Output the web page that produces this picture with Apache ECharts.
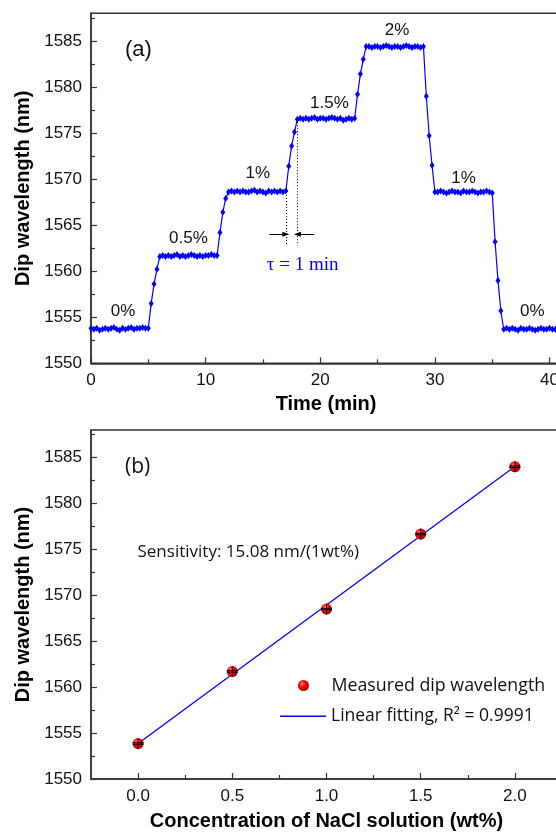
<!DOCTYPE html>
<html><head><meta charset="utf-8">
<script src="https://cdn.jsdelivr.net/npm/echarts@6/dist/echarts.min.js"></script>
<style>html,body{margin:0;padding:0;background:#fff;overflow:hidden}#c{width:562px;height:832px}</style>
</head><body><div id="c"></div>
<script>
// ---------- (a) time response ----------
const times = [
  0,0.25,0.5,0.75,1,1.25,1.5,1.75,2,2.25,2.5,2.75,3,3.25,3.5,3.75,4,4.25,4.5,4.75,5,
  5.25,5.5,5.75,6,
  6.25,6.5,6.75,7,7.25,7.5,7.75,8,8.25,8.5,8.75,9,9.25,9.5,9.75,10,10.25,10.5,10.75,11,
  11.25,11.5,11.75,12,
  12.25,12.5,12.75,13,13.25,13.5,13.75,14,14.25,14.5,14.75,15,15.25,15.5,15.75,16,16.25,16.5,16.75,17,
  17.25,17.5,17.75,18,
  18.25,18.5,18.75,19,19.25,19.5,19.75,20,20.25,20.5,20.75,21,21.25,21.5,21.75,22,22.25,22.5,22.75,23,
  23.25,23.5,23.75,24,
  24.25,24.5,24.75,25,25.25,25.5,25.75,26,26.25,26.5,26.75,27,27.25,27.5,27.75,28,28.25,28.5,28.75,29,
  29.25,29.5,29.75,30,
  30.25,30.5,30.75,31,31.25,31.5,31.75,32,32.25,32.5,32.75,33,33.25,33.5,33.75,34,34.25,34.5,34.75,35,
  35.25,35.5,35.75,36,
  36.25,36.5,36.75,37,37.25,37.5,37.75,38,38.25,38.5,38.75,39,39.25,39.5,39.75,40,40.25,40.5,40.75,41
];
const wavelengths = [
  1553.8,1553.7,1553.8,1553.6,1553.7,1553.8,1553.7,1553.8,1553.9,1553.7,1553.6,1553.8,1553.7,1553.8,1553.9,1553.7,1553.8,1553.8,1553.9,1553.8,1553.8,
  1556.5,1558.6,1560.2,1561.6,
  1561.7,1561.6,1561.7,1561.6,1561.7,1561.8,1561.6,1561.7,1561.6,1561.7,1561.8,1561.7,1561.6,1561.7,1561.6,1561.7,1561.7,1561.8,1561.7,1561.7,
  1564.2,1566.4,1567.9,1568.6,
  1568.7,1568.6,1568.7,1568.6,1568.7,1568.6,1568.6,1568.7,1568.8,1568.6,1568.7,1568.6,1568.5,1568.7,1568.6,1568.7,1568.6,1568.7,1568.6,1568.7,
  1571.4,1573.6,1575.1,1576.5,
  1576.6,1576.5,1576.6,1576.5,1576.6,1576.7,1576.5,1576.6,1576.6,1576.5,1576.6,1576.7,1576.6,1576.5,1576.6,1576.4,1576.5,1576.6,1576.5,1576.6,
  1579.2,1581.4,1583.0,1584.4,
  1584.4,1584.3,1584.4,1584.4,1584.3,1584.4,1584.5,1584.4,1584.3,1584.4,1584.4,1584.3,1584.4,1584.5,1584.4,1584.3,1584.4,1584.4,1584.3,1584.4,
  1579.0,1574.7,1571.5,1568.6,
  1568.6,1568.7,1568.6,1568.5,1568.6,1568.7,1568.6,1568.6,1568.5,1568.7,1568.6,1568.6,1568.7,1568.6,1568.5,1568.6,1568.6,1568.7,1568.6,1568.5,
  1563.2,1559.0,1555.7,1553.7,
  1553.8,1553.7,1553.8,1553.7,1553.6,1553.8,1553.7,1553.7,1553.8,1553.7,1553.6,1553.7,1553.8,1553.7,1553.7,1553.8,1553.7,1553.7,1553.8,1553.7
];
const pctLabelTexts  = ['0%', '0.5%', '1%', '1.5%', '2%', '1%', '0%'];
const pctLabelTimes  = [2.8, 8.5, 14.55, 20.8, 26.7, 32.5, 38.5];
const pctLabelValues = [1555.6, 1563.6, 1570.6, 1578.2, 1586.1, 1570.1, 1555.6];
const tauText = 'τ = 1 min';
const tauTextPos = [18.46, 1560.7];
const tauLineTimes = [17, 18];
const tauLineTops = [1568.6, 1576.5];
const tauLineBottom = 1562.8;
const tauArrowLevel = 1564.0;
const tauArrowTails = [15.56, 19.48];
const timeTicks = [0, 10, 20, 30, 40];
const timeMinorTicks = [5, 15, 25, 35];
const dipTicks = [1550, 1555, 1560, 1565, 1570, 1575, 1580, 1585];
const dipMinorTicks = [1552.5, 1557.5, 1562.5, 1567.5, 1572.5, 1577.5, 1582.5, 1587.5];

// ---------- (b) calibration ----------
const concentrations = [0, 0.5, 1.0, 1.5, 2.0];
const measuredDips = [1553.86, 1561.7, 1568.5, 1576.67, 1584.0];
const fitConc = [0, 2.0];
const fitDips = [1553.87, 1584.03];
const concTicks = [0, 0.5, 1.0, 1.5, 2.0];
const concMinorTicks = [0.25, 0.75, 1.25, 1.75, 2.25];
const sensitivityText = 'Sensitivity: 15.08 nm/(1wt%)';
const measuredName = 'Measured dip wavelength';
const fitName = 'Linear fitting, R² = 0.9991';

const AX = '#333';
const SANS = '"Liberation Sans", Arial, sans-serif';
const MYR = '"Open Sans", "Noto Sans", sans-serif';

function mainX(gi, min, max, ticks, name, gap, fmt) {
  return {
    gridIndex: gi, type: 'value', position: 'bottom', min: min, max: max,
    name: name, nameLocation: 'middle', nameGap: gap,
    nameTextStyle: {fontFamily: SANS, fontWeight: 'bold', fontSize: 20, color: '#000'},
    axisLine: {show: true, onZero: false, lineStyle: {color: AX, width: 1.5}},
    axisTick: {show: true, inside: true, length: 6, customValues: ticks, lineStyle: {color: AX, width: 1.2}},
    axisLabel: {show: true, customValues: ticks, margin: 9, fontFamily: SANS, fontSize: 17, color: '#111', formatter: fmt},
    splitLine: {show: false}
  };
}
function minorX(gi, min, max, ticks) {
  return {
    gridIndex: gi, type: 'value', position: 'bottom', min: min, max: max,
    axisLine: {show: false, onZero: false}, axisLabel: {show: false}, splitLine: {show: false},
    axisTick: {show: true, inside: true, length: 4, customValues: ticks, lineStyle: {color: AX, width: 1.2}}
  };
}
function mainY(gi, min, max, ticks, name, gap) {
  return {
    gridIndex: gi, type: 'value', position: 'left', min: min, max: max,
    name: name, nameLocation: 'middle', nameGap: gap,
    nameTextStyle: {fontFamily: SANS, fontWeight: 'bold', fontSize: 20, color: '#000'},
    axisLine: {show: true, onZero: false, lineStyle: {color: AX, width: 1.5}},
    axisTick: {show: true, inside: true, length: 6, customValues: ticks, lineStyle: {color: AX, width: 1.2}},
    axisLabel: {show: true, customValues: ticks, margin: 9, fontFamily: SANS, fontSize: 17, color: '#111', formatter: v => String(v)},
    splitLine: {show: false}
  };
}
function minorY(gi, min, max, ticks) {
  return {
    gridIndex: gi, type: 'value', position: 'left', min: min, max: max,
    axisLine: {show: false, onZero: false}, axisLabel: {show: false}, splitLine: {show: false},
    axisTick: {show: true, inside: true, length: 4, customValues: ticks, lineStyle: {color: AX, width: 1.2}}
  };
}

const chart = echarts.init(document.getElementById('c'), null, {renderer: 'canvas'});

const tauMarkData = [
  [{coord: [tauLineTimes[0], tauLineTops[0]], symbol: 'none'}, {coord: [tauLineTimes[0], tauLineBottom], symbol: 'none'}],
  [{coord: [tauLineTimes[1], tauLineTops[1]], symbol: 'none'}, {coord: [tauLineTimes[1], tauLineBottom], symbol: 'none'}],
  [{coord: [tauArrowTails[0], tauArrowLevel], symbol: 'none', lineStyle: {type: 'solid'}},
   {coord: [tauLineTimes[0], tauArrowLevel], symbol: 'triangle', symbolSize: [5, 7]}],
  [{coord: [tauArrowTails[1], tauArrowLevel], symbol: 'none', lineStyle: {type: 'solid'}},
   {coord: [tauLineTimes[1], tauArrowLevel], symbol: 'triangle', symbolSize: [5, 7]}]
];

const noStroke = {textBorderWidth: 0, textBorderColor: 'transparent', textShadowBlur: 0};
const sphere = new echarts.graphic.RadialGradient(0.38, 0.35, 0.65, [
  {offset: 0, color: '#ff8c8c'},
  {offset: 0.45, color: '#ff0000'},
  {offset: 1, color: '#b00000'}
]);

const option = {
  animation: false,
  backgroundColor: '#fff',
  grid: [
    {left: 91, right: 0, top: 13.3, bottom: 468.7, show: true, borderColor: AX, borderWidth: 1.5, containLabel: false},
    {left: 91, right: 0, top: 430, bottom: 51.3, show: true, borderColor: AX, borderWidth: 1.5, containLabel: false}
  ],
  xAxis: [
    mainX(0, 0, 41, timeTicks, 'Time (min)', 31),
    minorX(0, 0, 41, timeMinorTicks),
    mainX(1, -0.25, 2.25, concTicks, 'Concentration of NaCl solution (wt%)', 32, v => v.toFixed(1)),
    minorX(1, -0.25, 2.25, concMinorTicks)
  ],
  yAxis: [
    mainY(0, 1550, 1588, dipTicks, 'Dip wavelength (nm)', 46),
    minorY(0, 1550, 1588, dipMinorTicks),
    mainY(1, 1550, 1588, dipTicks, 'Dip wavelength (nm)', 46),
    minorY(1, 1550, 1588, dipMinorTicks)
  ],
  legend: [
    {
      data: [{name: measuredName, icon: 'circle'}],
      orient: 'vertical', left: 298, top: 676.5, padding: 0,
      itemWidth: 46, itemHeight: 11, selectedMode: false,
      textStyle: {fontFamily: MYR, fontSize: 17.8, color: '#111', lineHeight: 17}
    },
    {
      data: [{name: fitName, icon: 'rect'}],
      orient: 'vertical', left: 280, top: 707.2, padding: 0,
      itemWidth: 46, itemHeight: 1.4, selectedMode: false,
      textStyle: {fontFamily: MYR, fontSize: 17.5, color: '#111', lineHeight: 17}
    }
  ],
  series: [
    {
      type: 'line', xAxisIndex: 0, yAxisIndex: 0, z: 3,
      data: times.map((t, i) => [t, wavelengths[i]]),
      symbol: 'diamond', symbolSize: [5, 7], showSymbol: true, showAllSymbol: true,
      itemStyle: {color: '#0000ff'},
      lineStyle: {color: '#0000ff', width: 1.2},
      markLine: {
        silent: true, animation: false,
        symbol: ['none', 'none'],
        label: {show: false},
        lineStyle: {color: '#000', width: 1, type: [1, 2]},
        data: tauMarkData
      }
    },
    {
      type: 'scatter', xAxisIndex: 0, yAxisIndex: 0, silent: true,
      data: pctLabelTimes.map((t, i) => ({value: [t, pctLabelValues[i]], name: pctLabelTexts[i]})),
      symbolSize: 0, itemStyle: {opacity: 1},
      label: Object.assign({show: true, position: 'inside', formatter: '{b}', fontFamily: SANS, fontSize: 17, color: '#111'}, noStroke)
    },
    {
      type: 'scatter', xAxisIndex: 0, yAxisIndex: 0, silent: true,
      data: [{value: tauTextPos, name: tauText}],
      symbolSize: 0, itemStyle: {opacity: 1},
      label: Object.assign({show: true, position: 'inside', formatter: '{b}', fontFamily: '"Liberation Serif", "Times New Roman", serif', fontSize: 19, color: '#0000ff'}, noStroke)
    },
    {
      type: 'line', name: fitName, xAxisIndex: 2, yAxisIndex: 2, z: 2,
      data: fitConc.map((c, i) => [c, fitDips[i]]),
      symbol: 'none', showSymbol: false,
      itemStyle: {color: '#0000ff'},
      lineStyle: {color: '#0000ff', width: 1.3}
    },
    {
      type: 'scatter', name: measuredName, xAxisIndex: 2, yAxisIndex: 2, z: 3,
      data: concentrations.map((c, i) => [c, measuredDips[i]]),
      symbol: 'circle', symbolSize: 11,
      itemStyle: {color: sphere, opacity: 1}
    },
    {
      type: 'scatter', name: 'errbar', xAxisIndex: 2, yAxisIndex: 2, z: 4, silent: true,
      data: concentrations.map((c, i) => [c, measuredDips[i]]),
      symbol: 'path://M5,0L5,10M0,4.3L10,4.3M0,5.7L10,5.7', symbolSize: 11,
      itemStyle: {color: 'none', borderColor: '#000', borderWidth: 1, opacity: 1}
    }
  ],
  graphic: [
    {type: 'text', x: 125, y: 50, style: {text: '(a)', font: '22px "Liberation Sans", Arial, sans-serif', fill: '#111', textVerticalAlign: 'middle', verticalAlign: 'middle'}},
    {type: 'text', x: 125, y: 467, style: {text: '(b)', font: '21px "Open Sans", sans-serif', fill: '#111', textVerticalAlign: 'middle', verticalAlign: 'middle'}},
    {type: 'text', x: 137.5, y: 552, style: {text: sensitivityText, font: '17px "Open Sans", sans-serif', fill: '#111', textVerticalAlign: 'middle', verticalAlign: 'middle'}}
  ]
};
chart.setOption(option);
</script>
</body></html>
